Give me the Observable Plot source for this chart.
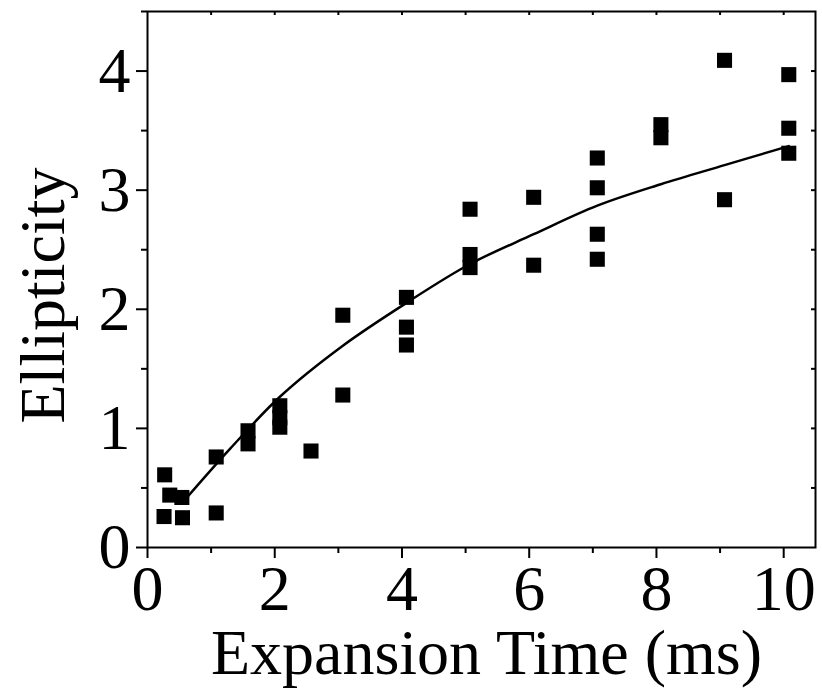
<!DOCTYPE html>
<html>
<head>
<meta charset="utf-8">
<script src="https://cdn.jsdelivr.net/npm/d3@7"></script>
<script src="https://cdn.jsdelivr.net/npm/@observablehq/plot@0.6"></script>
<style>
  html, body { margin: 0; padding: 0; background: #fff; }
  #chart svg { display: block; }
</style>
</head>
<body>
<div id="chart"></div>
<script>
// Measured data (Expansion time in ms, ellipticity)
const timeMs = [0.27, 0.35, 0.54, 0.26, 0.55, 1.08, 1.08, 1.58, 1.58, 2.08, 2.08, 2.08, 2.57, 3.07, 3.07,
  4.07, 4.07, 4.07, 5.07, 5.07, 5.07, 6.07, 6.07, 7.07, 7.07, 7.07, 7.07, 8.07, 8.07, 9.07, 9.07,
  10.08, 10.08, 10.08];
const ellipticity = [0.61, 0.44, 0.42, 0.26, 0.25, 0.76, 0.29, 0.98, 0.87, 1.19, 1.09, 1.01, 0.81, 1.95, 1.28,
  2.10, 1.85, 1.70, 2.84, 2.46, 2.35, 2.94, 2.37, 3.27, 3.02, 2.63, 2.42, 3.55, 3.44, 4.09, 2.92,
  3.97, 3.52, 3.31];

// Fitted curve
const fitTime = [0.62, 1.3, 2.09, 3.06, 4.06, 5.07, 6.07, 7.07, 8.07, 9.07, 10.08];
const fitEllipticity = [0.42, 0.83, 1.27, 1.69, 2.05, 2.38, 2.63, 2.87, 3.05, 3.21, 3.37];

// Ticks
const xMajor = [0, 2, 4, 6, 8, 10];
const xMinor = [1, 3, 5, 7, 9];
const xAll = [1, 2, 3, 4, 5, 6, 7, 8, 9, 10];
const yMajor = [0, 1, 2, 3, 4];
const yMinor = [0.5, 1.5, 2.5, 3.5, 4.5];
const yAll = [0.5, 1, 1.5, 2, 2.5, 3, 3.5, 4];

const xTitle = "Expansion Time (ms)";
const yTitle = "Ellipticity";

const points = timeMs.map((t, i) => ({t, e: ellipticity[i]}));
const fit = fitTime.map((t, i) => ({t, e: fitEllipticity[i]}));

const font = "'Liberation Serif', 'Times New Roman', serif";
const fs = 64;
const W = 822, H = 700, mL = 147, mR = 7, mT = 11, mB = 153;
const innerW = W - mL - mR, innerH = H - mT - mB;
const inTick = 4;

const chart = Plot.plot({
  width: W,
  height: H,
  marginLeft: mL,
  marginRight: mR,
  marginTop: mT,
  marginBottom: mB,
  style: {fontFamily: font, background: "#fff", color: "#000"},
  x: {domain: [0, 10.5]},
  y: {domain: [0, 4.5]},
  marks: [
    // bottom axis
    Plot.axisX(xMajor, {anchor: "bottom", tickSize: 11, strokeWidth: 2, tickPadding: 6, fontSize: fs, tickFormat: d => String(d), label: null}),
    Plot.axisX(xMinor, {anchor: "bottom", tickSize: 6, strokeWidth: 2, tickFormat: () => "", label: null}),
    // left axis
    Plot.axisY(yMajor, {anchor: "left", tickSize: 11, strokeWidth: 2, tickPadding: 6, fontSize: fs, tickFormat: d => String(d), label: null}),
    Plot.axisY(yMinor, {anchor: "left", tickSize: 6, strokeWidth: 2, tickFormat: () => "", label: null}),
    // top inward ticks
    Plot.tickX(xAll, {x: d => d, insetBottom: innerH - inTick, stroke: "#000", strokeWidth: 2}),
    // right inward ticks
    Plot.tickY(yAll, {y: d => d, insetLeft: innerW - inTick, stroke: "#000", strokeWidth: 2}),
    Plot.frame({stroke: "#000", strokeWidth: 2}),
    Plot.line(fit, {x: "t", y: "e", curve: "catmull-rom", stroke: "#000", strokeWidth: 2.5}),
    Plot.dot(points, {x: "t", y: "e", symbol: "square", r: 8.5, fill: "#000", stroke: "none"}),
    Plot.text([xTitle], {frameAnchor: "bottom", textAnchor: "middle", lineAnchor: "middle", dx: 5, dy: 106, fontSize: fs, fill: "#000"}),
    Plot.text([yTitle], {frameAnchor: "left", textAnchor: "middle", lineAnchor: "middle", rotate: -90, dx: -104, dy: 16, fontSize: fs, fill: "#000"})
  ]
});
document.getElementById("chart").appendChild(chart);
</script>
</body>
</html>
